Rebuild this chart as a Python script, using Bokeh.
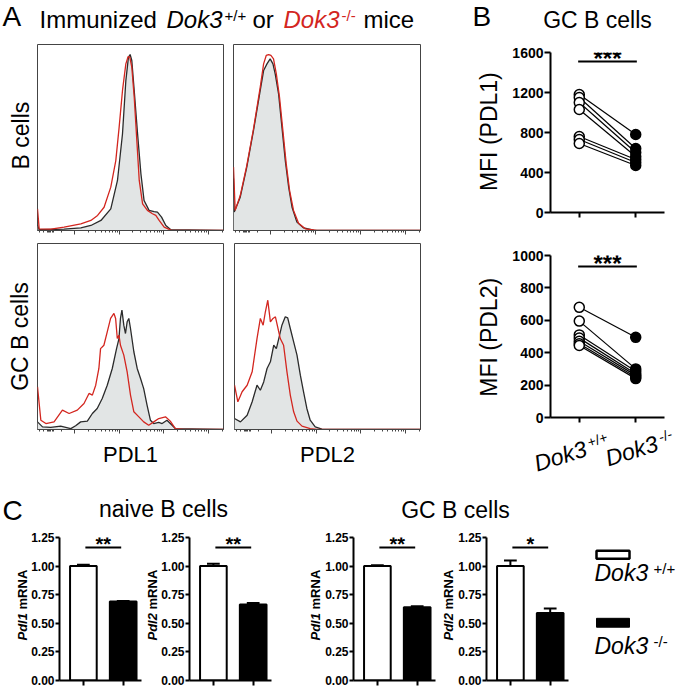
import math
from bokeh.plotting import figure
from bokeh.models import Range1d, Label, FixedTicker, NumeralTickFormatter, CustomLabelingPolicy
from bokeh.layouts import row, column
from bokeh.embed import file_html
from bokeh.resources import INLINE

FONT = "Liberation Sans"
RED = "#d3261f"
DARK = "#2b2b2b"
FILL = "#e2e5e5"

# ---------------- Panel A: flow histograms (x: % of axis width, y: % of max height)
b_pdl1_wt_x = [0, 0.9, 14.3, 23.3, 28.7, 34.1, 39.4, 43.0, 45.7, 47.5, 48.9, 49.8, 50.7, 52.0, 53.8, 55.6, 57.3, 60.0, 62.7, 64.5, 66.7, 69.0, 71.7, 100]
b_pdl1_wt_y = [3.0, 0.4, 0.7, 1.4, 2.7, 5.4, 11.6, 26.9, 52.0, 80.6, 93.2, 94.6, 91.4, 75.3, 52.0, 30.5, 16.1, 10.8, 10.2, 9.9, 7.2, 2.7, 0.4, 0]
b_pdl1_ko_x = [0, 0.9, 7.2, 14.3, 23.3, 28.7, 32.3, 35.8, 39.4, 42.1, 43.9, 45.7, 47.5, 48.7, 49.6, 50.7, 52.0, 53.4, 54.7, 56.5, 59.1, 61.8, 63.6, 65.4, 68.1, 71.7, 100]
b_pdl1_ko_y = [11.6, 0.9, 0.7, 1.8, 3.6, 5.4, 8.1, 12.5, 23.3, 37.6, 55.6, 75.3, 89.6, 93.5, 93.2, 87.8, 71.7, 48.4, 26.9, 14.3, 10.8, 9.0, 8.1, 5.4, 1.8, 0.2, 0]

b_pdl2_wt_x = [0, 0.4, 3.6, 7.1, 10.7, 14.3, 16.1, 17.9, 19.6, 21.1, 22.3, 24.1, 25.9, 27.7, 29.5, 31.3, 33.9, 37.5, 42.9, 100]
b_pdl2_wt_y = [28.0, 9.9, 17.9, 34.1, 53.8, 75.3, 86.0, 89.6, 92.3, 89.6, 84.2, 73.5, 55.6, 37.6, 23.3, 12.5, 4.5, 1.4, 0.2, 0]
b_pdl2_ko_x = [0, 0.9, 3.6, 7.1, 10.7, 14.3, 16.1, 17.5, 18.8, 20.0, 21.4, 22.9, 24.6, 26.4, 28.2, 30.0, 32.1, 34.8, 38.4, 44.6, 100]
b_pdl2_ko_y = [34.1, 10.8, 18.8, 34.9, 54.7, 77.1, 89.6, 94.1, 94.6, 94.1, 92.3, 84.2, 71.7, 53.8, 35.8, 21.5, 10.8, 3.9, 0.9, 0, 0]

gc_pdl1_wt_x = [0, 2.7, 7.1, 12.5, 17.9, 20.5, 23.2, 26.8, 29.5, 32.1, 34.8, 37.5, 40.2, 42.5, 43.8, 44.6, 45.4, 46.4, 47.3, 48.2, 49.1, 50.0, 51.8, 53.6, 55.4, 57.1, 58.9, 60.7, 62.5, 65.2, 67.0, 69.6, 71.4, 74.1, 100]
gc_pdl1_wt_y = [4.1, 1.4, 1.1, 1.8, 0.5, 2.0, 4.1, 4.5, 8.6, 11.3, 16.7, 23.8, 32.8, 43.5, 48.9, 59.7, 64.2, 56.1, 51.6, 57.9, 59.7, 54.3, 41.8, 32.8, 27.4, 22.0, 13.1, 5.0, 3.2, 3.8, 3.2, 5.0, 3.2, 0.5, 0]
gc_pdl1_ko_x = [0, 1.8, 4.5, 8.9, 13.4, 17.0, 21.4, 25.0, 27.7, 29.5, 31.3, 33.0, 33.9, 35.7, 37.5, 39.3, 41.1, 42.0, 42.9, 43.8, 44.6, 46.4, 48.2, 50.0, 51.8, 54.5, 57.1, 59.8, 62.5, 65.2, 68.8, 71.4, 74.1, 78.6, 100]
gc_pdl1_ko_y = [22.9, 5.0, 3.2, 4.1, 10.4, 8.6, 10.4, 14.0, 19.4, 18.5, 23.8, 32.8, 43.5, 45.3, 52.5, 59.7, 62.4, 59.7, 48.9, 50.7, 45.3, 40.0, 31.0, 18.5, 9.5, 6.8, 4.1, 2.3, 4.1, 5.9, 6.8, 4.5, 0.5, 0, 0]

gc_pdl2_wt_x = [0, 3.2, 6.8, 9.5, 12.1, 13.9, 15.7, 17.5, 19.3, 21.1, 22.5, 23.8, 25.5, 27.3, 28.6, 30.0, 31.8, 33.6, 35.4, 37.1, 38.9, 40.7, 43.4, 47.0, 100]
gc_pdl2_wt_y = [5.9, 4.1, 7.7, 14.9, 23.8, 21.1, 25.6, 32.8, 36.4, 45.3, 43.5, 48.9, 56.1, 60.6, 60.0, 54.3, 47.1, 40.0, 29.2, 20.3, 11.3, 5.0, 1.4, 0.2, 0]
gc_pdl2_ko_x = [0, 1.8, 4.1, 6.8, 9.5, 12.1, 13.9, 15.4, 16.6, 17.9, 19.3, 20.7, 22.0, 23.2, 24.6, 26.4, 28.2, 30.0, 31.8, 33.6, 36.3, 40.7, 44.3, 100]
gc_pdl2_ko_y = [23.8, 14.9, 20.3, 23.8, 31.0, 48.9, 59.7, 56.1, 63.3, 69.5, 57.9, 59.7, 60.6, 55.2, 48.9, 45.3, 31.0, 18.5, 9.5, 4.5, 1.8, 0.5, 0, 0]

# ---------------- Panel B: MFI of GC B cells, paired mice
geno_pos = [1, 2]
mfi_pdl1_wt = [1180, 1150, 1100, 1030, 760, 730, 690]
mfi_pdl1_ko = [780, 640, 600, 560, 530, 500, 470]
mfi_pdl2_wt = [680, 595, 510, 490, 470, 455, 445]
mfi_pdl2_ko = [495, 300, 285, 270, 260, 250, 240]
mfi_pdl1_ticks = [0, 400, 800, 1200, 1600]
mfi_pdl2_ticks = [0, 200, 400, 600, 800, 1000]
mfi_sig = ["***", "***"]
mfi_sig_y = [1510, 932]

# ---------------- Panel C: relative mRNA
mrna_ticks = [0, 0.25, 0.5, 0.75, 1.0, 1.25]
naive_pdl1_mean = [1.00, 0.69]
naive_pdl1_err = [0.012, 0.005]
naive_pdl2_mean = [1.00, 0.665]
naive_pdl2_err = [0.02, 0.012]
gc_pdl1_mean = [1.00, 0.64]
gc_pdl1_err = [0.008, 0.01]
gc_pdl2_mean = [1.00, 0.59]
gc_pdl2_err = [0.05, 0.04]
mrna_sig = ["**", "**", "**", "*"]
mrna_sig_y = 1.163

NO_LABELS = CustomLabelingPolicy(code="return []")


class Panel:
    def __init__(self, W, H, l=0, r=0, t=0, b=0, xr=None, yr=None, xaxis=False, yaxis=False):
        if xr is None:
            xr = (0, W)
        if yr is None:
            yr = (0, H)
        self.l, self.t = l, t
        self.xr, self.yr = xr, yr
        self.fw = W - l - r
        self.fh = H - t - b
        p = figure(width=W, height=H, x_range=Range1d(*xr), y_range=Range1d(*yr),
                   output_backend="svg", toolbar_location=None, title=None,
                   x_axis_location="below" if xaxis else None,
                   y_axis_location="left" if yaxis else None,
                   min_border_left=l, min_border_right=r,
                   min_border_top=t, min_border_bottom=b)
        p.grid.visible = False
        p.outline_line_color = None
        p.background_fill_color = "white"
        p.border_fill_color = "white"
        self.p = p

    def dx(self, px):
        return self.xr[0] + (px - self.l) / self.fw * (self.xr[1] - self.xr[0])

    def dy(self, py):
        return self.yr[1] - (py - self.t) / self.fh * (self.yr[1] - self.yr[0])

    def px(self, x):
        return self.l + (x - self.xr[0]) / (self.xr[1] - self.xr[0]) * self.fw

    def py(self, y):
        return self.t + (self.yr[1] - y) / (self.yr[1] - self.yr[0]) * self.fh

    # (px, py): left / centre (per align) of the text, vertically its middle
    def text(self, px, py, txt, size, style="normal", color="black", angle=0.0, align="left"):
        self.p.add_layout(Label(x=self.dx(px), y=self.dy(py), text=txt, text_font=FONT,
                                text_font_size=f"{size}px", text_font_style=style,
                                text_color=color, angle=angle, text_align=align,
                                text_baseline="middle"))


def hide_labels(ax):
    ax.major_label_text_font_size = "0px"
    ax.major_label_standoff = 0
    ax.major_label_policy = NO_LABELS


# ---- histogram ticks (log decades)
MAJ = [20, 44, 68, 92]
MIN = [d + 24 * math.log10(k) for d in (20, 44, 68) for k in range(2, 10)]
MIN += [92 + 24 * math.log10(2)]
MIN += [20 - 24 * math.log10(k) for k in range(2, 7)] + [10 - 6 * math.log10(k) for k in range(2, 6)]


def hist_panel(W, H, l, r, t, b, wx, wy, kx, ky):
    P = Panel(W, H, l, r, t, b, (0, 100), (0, 100), xaxis=True)
    p = P.p
    p.outline_line_color = "#444444"
    p.outline_line_width = 1
    p.varea(x=wx, y1=0, y2=wy, fill_color=FILL)
    p.line(wx, wy, line_color=DARK, line_width=1.3)
    p.line(kx, ky, line_color=RED, line_width=1.3)
    ax = p.xaxis[0]
    ax.ticker = FixedTicker(ticks=MAJ, minor_ticks=MIN)
    hide_labels(ax)
    ax.axis_line_color = "#444444"
    ax.major_tick_out = 4
    ax.major_tick_in = 0
    ax.minor_tick_out = 2
    ax.minor_tick_in = 0
    ax.major_tick_line_color = "#444444"
    ax.minor_tick_line_color = "#444444"
    return P


def style_axes(P, yticks, size, tick_out, fmt=None):
    p = P.p
    for ax in (p.xaxis[0], p.yaxis[0]):
        ax.axis_line_width = 2
        ax.axis_line_color = "black"
        ax.major_tick_line_width = 2
        ax.major_tick_line_color = "black"
        ax.major_tick_in = 0
        ax.minor_tick_in = 0
        ax.minor_tick_out = 0
    p.xaxis[0].ticker = FixedTicker(ticks=geno_pos)
    p.xaxis[0].major_tick_out = 5
    hide_labels(p.xaxis[0])
    y = p.yaxis[0]
    y.ticker = FixedTicker(ticks=yticks)
    y.major_tick_out = tick_out
    y.major_label_standoff = 1
    y.major_label_text_font = FONT
    y.major_label_text_font_style = "bold"
    y.major_label_text_font_size = f"{size}px"
    y.major_label_text_color = "black"
    if fmt:
        y.formatter = NumeralTickFormatter(format=fmt)


# ================= Panel A (x 0..426, y 0..478) =================
titleA = Panel(426, 38)
titleA.text(2, 16, "A", 28)
titleA.text(39, 18.5, "Immunized", 24)
titleA.text(166, 18.5, "Dok3", 24, style="italic")
titleA.text(224, 15, "+/+", 15)
titleA.text(252, 18.5, "or", 24)
titleA.text(283, 18.5, "Dok3", 24, style="italic", color=RED)
titleA.text(341, 15, "-/-", 15, color=RED)
titleA.text(363, 18.5, "mice", 24)

labA1 = Panel(36, 198)
labA1.text(20, 97, "B cells", 23, angle=math.pi / 2, align="center")
labA2 = Panel(36, 200)
labA2.text(19, 100, "GC B cells", 23, angle=math.pi / 2, align="center")

TL = hist_panel(192, 198, 1, 5, 6, 6, b_pdl1_wt_x, b_pdl1_wt_y, b_pdl1_ko_x, b_pdl1_ko_y)
TR = hist_panel(198, 198, 5, 6, 6, 6, b_pdl2_wt_x, b_pdl2_wt_y, b_pdl2_ko_x, b_pdl2_ko_y)
BL = hist_panel(192, 200, 1, 5, 7, 7, gc_pdl1_wt_x, gc_pdl1_wt_y, gc_pdl1_ko_x, gc_pdl1_ko_y)
BR = hist_panel(198, 200, 6, 6, 7, 7, gc_pdl2_wt_x, gc_pdl2_wt_y, gc_pdl2_ko_x, gc_pdl2_ko_y)

xlabA = Panel(426, 42)
xlabA.text(130, 18, "PDL1", 22, align="center")
xlabA.text(327, 18, "PDL2", 22, align="center")

colA = column(titleA.p,
              row(labA1.p, TL.p, TR.p, spacing=0),
              row(labA2.p, BL.p, BR.p, spacing=0),
              xlabA.p, spacing=0)

# ================= Panel B (x 426..677, y 0..478) =================
titleB = Panel(251, 40)
titleB.text(46, 16, "B", 28)
titleB.text(171, 19, "GC B cells", 23, align="center")

labB1 = Panel(83, 194)
labB1.text(62, 96, "MFI (PDL1)", 23, angle=math.pi / 2, align="center")
labB2 = Panel(83, 192)
labB2.text(62, 97, "MFI (PDL2)", 23, angle=math.pi / 2, align="center")

B1 = Panel(168, 194, 40, 13, 12, 22, (0.49, 2.51), (0, 1600), xaxis=True, yaxis=True)
B2 = Panel(168, 192, 40, 13, 21, 9, (0.49, 2.51), (0, 1000), xaxis=True, yaxis=True)
style_axes(B1, mfi_pdl1_ticks, 14, 6)
style_axes(B2, mfi_pdl2_ticks, 14, 6)
for P, wt, ko, sig, sy in ((B1, mfi_pdl1_wt, mfi_pdl1_ko, mfi_sig[0], mfi_sig_y[0]),
                           (B2, mfi_pdl2_wt, mfi_pdl2_ko, mfi_sig[1], mfi_sig_y[1])):
    n = len(wt)
    xw = [geno_pos[0]] * n
    xk = [geno_pos[1]] * n
    P.p.segment(x0=xw, y0=wt, x1=xk, y1=ko, line_color="black", line_width=1.2)
    P.p.scatter(xw, wt, size=10, fill_color="white", line_color="black", line_width=1.5)
    P.p.scatter(xk, ko, size=10, fill_color="black", line_color="black", line_width=1.5)
    P.p.segment(x0=[geno_pos[0] - 0.02], y0=[sy], x1=[geno_pos[1] + 0.02], y1=[sy],
                line_color="black", line_width=2)
    P.text(P.px(1.5), P.py(sy) - 3, sig, 24, style="bold", align="center")

# rotated category labels under panel B (x 426..677, y 426..478)
xlabB = Panel(251, 52)
ang = math.radians(17.6)
ca, sa = math.cos(ang), math.sin(ang)
for (sx, sy), sup in (((108.3, 37.7), "+/+"), ((179.6, 32.4), "-/-")):
    xlabB.text(sx, sy, "Dok3", 23, style="italic", angle=ang)
    ux = sx + 57 * ca - 4.5 * sa
    uy = sy - 57 * sa - 4.5 * ca
    xlabB.text(ux, uy, sup, 14, angle=ang)

colB = column(titleB.p,
              row(labB1.p, B1.p, spacing=0),
              row(labB2.p, B2.p, spacing=0),
              xlabB.p, spacing=0)

# ================= Panel C (y 478..688) =================
titleC = Panel(677, 49)
titleC.text(2, 32, "C", 28)
titleC.text(163, 30, "naive B cells", 23, align="center")
titleC.text(455, 31, "GC B cells", 23, align="center")

RH = 161
bar_specs = [
    # (label W, label x, plot W, l, r, mean, err, gene, sig)
    (28, 21.5, 115, 30, 2, naive_pdl1_mean, naive_pdl1_err, "Pdl1", mrna_sig[0]),
    (15, 8.5, 148, 30, 35, naive_pdl2_mean, naive_pdl2_err, "Pdl2", mrna_sig[1]),
    (16, 8.5, 117, 30, 4, gc_pdl1_mean, gc_pdl1_err, "Pdl1", mrna_sig[2]),
    (16, 8.5, 117, 30, 4, gc_pdl2_mean, gc_pdl2_err, "Pdl2", mrna_sig[3]),
]
c_row = []
for LW, lx, W, l, r, mean, err, gene, sig in bar_specs:
    lab = Panel(LW, RH)
    lab.text(lx, 116, gene, 13, style="bold italic", angle=math.pi / 2)
    lab.text(lx, 81, "mRNA", 13, style="bold", angle=math.pi / 2)
    P = Panel(W, RH, l, r, 10, 8, (0.40, 2.46), (0, 1.25), xaxis=True, yaxis=True)
    style_axes(P, mrna_ticks, 12, 4, fmt="0.00")
    p = P.p
    p.vbar(x=geno_pos, top=mean, width=0.67, fill_color=["white", "black"],
           line_color="black", line_width=2)
    hi = [m + e for m, e in zip(mean, err)]
    p.segment(x0=geno_pos, y0=mean, x1=geno_pos, y1=hi, line_color="black", line_width=2)
    p.segment(x0=[x - 0.16 for x in geno_pos], y0=hi, x1=[x + 0.16 for x in geno_pos], y1=hi,
              line_color="black", line_width=2)
    p.segment(x0=[1.05], y0=[mrna_sig_y], x1=[1.95], y1=[mrna_sig_y],
              line_color="black", line_width=2)
    P.text(P.px(1.5), P.py(mrna_sig_y) - 3, sig, 20, style="bold", align="center")
    c_row += [lab.p, p]

LEG = Panel(105, RH)
LEG.p.quad(left=[24], right=[57], top=[LEG.dy(15)], bottom=[LEG.dy(24)],
           fill_color="white", line_color="black", line_width=2.5)
LEG.p.quad(left=[24], right=[57], top=[LEG.dy(91)], bottom=[LEG.dy(101)],
           fill_color="black", line_color="black", line_width=1)
LEG.text(22, 40, "Dok3", 23, style="italic")
LEG.text(81, 35, "+/+", 15)
LEG.text(22, 122, "Dok3", 23, style="italic")
LEG.text(81, 117, "-/-", 15)
c_row.append(LEG.p)

top = row(colA, colB, spacing=0)
bottom = column(titleC.p, row(*c_row, spacing=0), spacing=0)
root = column(top, bottom, spacing=0)

open("out.html", "w").write(file_html(root, INLINE))
